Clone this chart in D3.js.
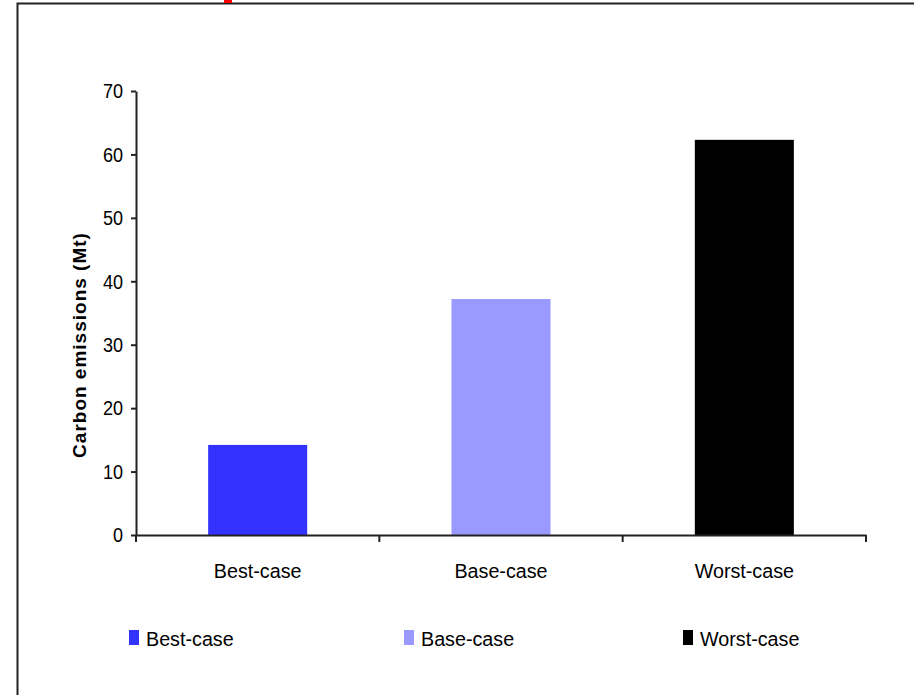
<!DOCTYPE html>
<html>
<head>
<meta charset="utf-8">
<script src="https://cdn.jsdelivr.net/npm/d3@7"></script>
<style>
  html, body { margin: 0; padding: 0; background: #fff; }
  svg { display: block; font-family: "Liberation Sans", Arial, sans-serif; }
</style>
</head>
<body>
<script>
const categories = ["Best-case", "Base-case", "Worst-case"];
const values = [14.2, 37.2, 62.3];
const colors = ["#3333FF", "#9999FF", "#000000"];
const yTicks = [0, 10, 20, 30, 40, 50, 60, 70];
const yTitle = "Carbon emissions (Mt)";

const W = 914, H = 695;
const svg = d3.select("body").append("svg").attr("width", W).attr("height", H);

// outer frame (extends beyond right/bottom edges)
svg.append("rect").attr("x", 17.5).attr("y", 3.5).attr("width", 1000).attr("height", 1000)
  .attr("fill", "none").attr("stroke", "#222").attr("stroke-width", 2);
// red fragment at top
svg.append("rect").attr("x", 224).attr("y", 0).attr("width", 8).attr("height", 3).attr("fill", "#ff0000");

const x0 = 136, x1 = 866, yBase = 535, yTop = 91;
const y = d3.scaleLinear().domain([0, 70]).range([yBase, yTop]);
const xBand = d3.scaleBand().domain(categories).range([x0, x1]).padding(0);
const xBar = d3.scaleBand().domain(categories).range([x0, x1]).paddingInner(0.593).paddingOuter(0.2965);

const SX = 0.94; // horizontal condensing of text

// bars
svg.append("g").selectAll("rect").data(categories).join("rect")
  .attr("x", d => xBar(d))
  .attr("width", xBar.bandwidth())
  .attr("y", (d, i) => y(values[i]))
  .attr("height", (d, i) => yBase - y(values[i]))
  .attr("fill", (d, i) => colors[i]);

// y axis
const yAxis = svg.append("g").attr("transform", `translate(${x0},0)`)
  .call(d3.axisLeft(y).tickValues(yTicks).tickSize(5).tickSizeOuter(0).tickPadding(9));
yAxis.select(".domain").attr("stroke", "#222").attr("stroke-width", 2);
yAxis.selectAll(".tick line").attr("stroke", "#222").attr("stroke-width", 2);
yAxis.selectAll(".tick text").attr("font-size", 21).attr("fill", "#000")
  .attr("font-family", "'Liberation Sans', Arial, sans-serif")
  .attr("x", -13 / 0.86).attr("transform", "scale(0.86,1)");
// extend y axis below baseline
svg.append("line").attr("x1", x0).attr("x2", x0).attr("y1", yBase).attr("y2", yBase + 7)
  .attr("stroke", "#222").attr("stroke-width", 2);

// x axis
const bounds = [x0].concat(categories.map(c => xBand(c) + xBand.bandwidth()));
const xAxis = svg.append("g").attr("transform", `translate(0,${yBase})`)
  .call(d3.axisBottom(xBand).tickSize(0).tickSizeOuter(0).tickPadding(0));
xAxis.select(".domain").attr("stroke", "#222").attr("stroke-width", 2);
xAxis.selectAll(".tick text").attr("font-size", 21).attr("fill", "#000")
  .attr("font-family", "'Liberation Sans', Arial, sans-serif")
  .attr("dy", null).attr("y", 43).attr("transform", `scale(${SX},1)`);
svg.append("g").selectAll("line").data(bounds.slice(1)).join("line")
  .attr("x1", d => d).attr("x2", d => d).attr("y1", yBase).attr("y2", yBase + 7)
  .attr("stroke", "#222").attr("stroke-width", 2);

// y title
svg.append("text")
  .attr("transform", `translate(86,345) rotate(-90)`)
  .attr("text-anchor", "middle")
  .attr("font-size", 19).attr("font-weight", "bold").attr("letter-spacing", "1px")
  .attr("fill", "#000")
  .text(yTitle);

// legend
const legendX = [129, 404, 683];
const lg = svg.append("g").selectAll("g").data(categories).join("g")
  .attr("transform", (d, i) => `translate(${legendX[i]},630)`);
lg.append("rect").attr("width", 10).attr("height", 15).attr("fill", (d, i) => colors[i]);
lg.append("text").attr("x", 17 / SX).attr("y", 15.5).attr("font-size", 21)
  .attr("transform", `scale(${SX},1)`).attr("fill", "#000").text(d => d);
</script>
</body>
</html>
